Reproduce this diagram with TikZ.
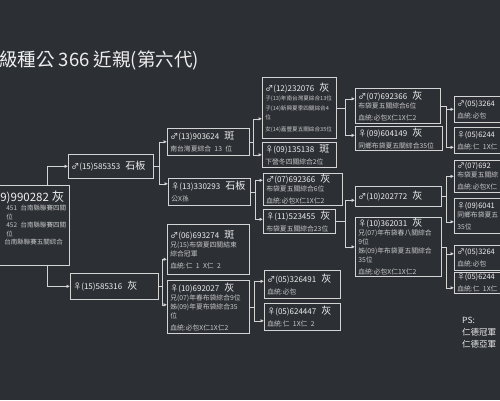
\documentclass[tikz,border=0pt]{standalone}
\usepackage{fontspec}
\setmainfont{Noto Sans CJK TC}
\usetikzlibrary{arrows.meta,calc}
\definecolor{bgc}{RGB}{44,47,52}
\definecolor{linec}{RGB}{212,212,212}
\definecolor{idc}{RGB}{238,238,238}
\definecolor{notec}{RGB}{200,200,200}
\newcommand\idfont{\fontsize{8}{11}\selectfont}
\newcommand\coatfont{\fontsize{10}{11}\selectfont}
\newcommand\notefont{\fontsize{6.8}{9}\selectfont\color{notec}}
\newcommand\tinynote{\fontsize{5.6}{9.5}\selectfont\color{notec}}
\newcommand\idline[2]{\mbox{\idfont #1\hspace{5pt}\coatfont #2}}

\begin{document}
\begin{tikzpicture}[x=1pt,y=-1pt]

		\tikzset{box/.style = {draw=linec, line width=0.7pt, anchor=north west, inner xsep=3pt, inner ysep=1pt, text width=#1, align=left, text=idc}}
		\tikzset{edge/.style = {draw=linec, line width=0.6pt, -{Latex[length=3.5pt,width=3.5pt]}}}
		\useasboundingbox (0,0) rectangle (500,400);
		\fill[bgc] (0,0) rectangle (500,400);
		\clip (0,0) rectangle (500,400);
		\node[anchor=west, inner sep=0, text=idc, font=\fontsize{18.5}{20}\selectfont] (title) at (-1,60) {級種公 366 近親(第六代)};
		\node[box=66pt, minimum height=80pt] (R) at (-3,185) {\mbox{\fontsize{11.5}{14}\selectfont 9)990282\hspace{3pt}\fontsize{12.5}{14}\selectfont 灰}\par
			\fontsize{6.5}{8.6}\selectfont\color{notec}\hspace*{6pt}451 台南縣聯賽四關\\ \hspace*{6pt}位\\ \hspace*{6pt}452 台南縣聯賽四關\\ \hspace*{6pt}位\\ \hspace*{4pt}台南縣聯賽五關綜合\par\vspace*{14pt}};
		\node[box=79pt, minimum height=24pt] (A) at (68,154) {\idline{♂(15)585353}{石板}};
		\node[box=82pt, minimum height=26pt] (B) at (70,273) {\idline{♀(15)585316}{灰}};
		\node[box=76pt, minimum height=27pt] (C) at (167,128) {\idline{♂(13)903624}{斑}\par\notefont 南台灣夏綜合 13 位};
		\node[box=76pt, minimum height=27pt] (D) at (168,178) {\idline{♀(13)330293}{石板}\par\notefont 公X孫};
		\node[box=76pt, minimum height=50pt] (E) at (167,224) {\idline{♂(06)693274}{斑}\par\notefont 兄(15)布袋夏四關結束\\綜合冠軍\\血統:仁 1 X仁 2};
		\node[box=76pt, minimum height=53pt] (F) at (167,280) {\idline{♀(10)692027}{灰}\par\notefont 兄(07)年春布袋綜合9位\\姊(09)年夏布袋綜合35\\位\\血統:必包X仁1X仁2};
		\node[box=68pt, minimum height=61pt] (G) at (262,77) {\idline{♂(12)232076}{灰}\par\tinynote 子(13)年南台灣夏綜合13位\\子(14)新興夏季四關綜合4\\位\\女(14)嘉豐夏五關綜合35位};
		\node[box=68pt, minimum height=25pt] (H) at (262,142) {\idline{♀(09)135138}{斑}\par\notefont 下營冬四關綜合2位};
		\node[box=73pt, minimum height=32pt] (I) at (263,173) {\idline{♂(07)692366}{灰}\par\notefont 布袋夏五關綜合6位\\血統:必包X仁1X仁2};
		\node[box=66pt, minimum height=24pt] (J) at (263,209) {\idline{♀(11)523455}{灰}\par\notefont 布袋夏五關綜合23位};
		\node[box=70pt, minimum height=28pt] (K) at (264,270) {\idline{♂(05)326491}{灰}\par\notefont 血統:必包};
		\node[box=70pt, minimum height=27pt] (L) at (264,303) {\idline{♀(05)624447}{灰}\par\notefont 血統:仁 1X仁 2};
		\node[box=79pt, minimum height=35pt] (M) at (355,88) {\idline{♂(07)692366}{灰}\par\notefont 布袋夏五關綜合6位\\血統:必包X仁1X仁2};
		\node[box=81pt, minimum height=24pt] (N) at (355,126) {\idline{♀(09)604149}{灰}\par\notefont 同鄉布袋夏五關綜合35位};
		\node[box=80pt, minimum height=20pt] (O) at (355,186) {\idline{♂(10)202772}{灰}};
		\node[box=80pt, minimum height=59pt] (P) at (355,217) {\idline{♀(10)362031}{灰}\par\notefont 兄(07)年布袋春八關綜合\\9位\\姊(09)年布袋夏五關綜合\\35位\\血統:必包X仁1X仁2};
		\node[box=60pt, minimum height=26pt] (Q1) at (454,96) {\fontsize{7.5}{11}\selectfont ♂(05)3264\par\notefont 血統:必包};
		\node[box=60pt, minimum height=26pt] (Q2) at (454,127) {\fontsize{7.5}{11}\selectfont ♀(05)6244\par\notefont 血統:仁 1X仁};
		\node[box=60pt, minimum height=32pt] (Q3) at (454,160) {\fontsize{7.5}{11}\selectfont ♂(07)692\par\notefont 布袋夏五關綜\\血統:必包X仁};
		\node[box=60pt, minimum height=35pt] (Q4) at (454,198) {\fontsize{7.5}{11}\selectfont ♀(09)6041\par\notefont 同鄉布袋夏五\\35位};
		\node[box=60pt, minimum height=25pt] (Q5) at (454,245) {\fontsize{7.5}{11}\selectfont ♂(05)3264\par\notefont 血統:必包};
		\node[box=60pt, minimum height=21pt] (Q6) at (454,272) {\fontsize{7.5}{11}\selectfont ♀(05)6244\par\notefont 血統:仁 1X仁};
		\node[anchor=north west, inner sep=0, align=left, text=idc, font=\fontsize{8.5}{12}\selectfont] (ps) at (462,317) {PS:\\仁德冠軍\\仁德亞軍};
		%edges
		\draw[edge] ($(R.north)+(14,0)$) |- (A.west);
		\draw[edge] ($(R.south)+(14,0)$) |- (B.west);
		\draw[edge] (A.east) -- ++(6,0) |- (C.west);
		\draw[edge] (A.east) -- ++(6,0) |- ($(D.west)+(0,-8)$);
		\draw[edge] (B.east) -- ++(4,0) |- ($(E.west)+(0,10)$);
		\draw[edge] (B.east) -- ++(4,0) |- ($(F.west)+(0,-2)$);
		\draw[edge] (C.east) -- ++(4,0) |- ($(G.west)+(0,11)$);
		\draw[edge] (C.east) -- ++(4,0) |- (H.west);
		\draw[edge] (D.east) -- ++(5,0) |- ($(I.west)+(0,-9)$);
		\draw[edge] (D.east) -- ++(5,0) |- ($(J.west)+(0,-2)$);
		\draw[edge] (F.east) -- ++(5,0) |- ($(K.west)+(0,-3)$);
		\draw[edge] (F.east) -- ++(5,0) |- ($(L.west)+(0,4)$);
		\draw[edge] (G.east) -- ++(9,0) |- ($(M.west)+(0,-7)$);
		\draw[edge] (G.east) -- ++(9,0) |- ($(N.west)+(0,-3)$);
		\draw[edge] (J.east) -- ++(10,0) |- ($(O.west)+(0,4)$);
		\draw[edge] (J.east) -- ++(10,0) |- (P.west);
		\draw[edge] (M.east) -- ++(6,0) |- (Q1.west);
		\draw[edge] (M.east) -- ++(6,0) |- ($(Q2.west)+(0,7)$);
		\draw[edge] (O.east) -- ++(5,0) |- (Q3.west);
		\draw[edge] (O.east) -- ++(5,0) |- ($(Q4.west)+(0,6)$);
		\draw[edge] (P.east) -- ++(5,0) |- ($(Q5.west)+(0,-4)$);
		\draw[edge] (P.east) -- ++(5,0) |- ($(Q6.west)+(0,5)$);
		\end{tikzpicture}
\end{document}
